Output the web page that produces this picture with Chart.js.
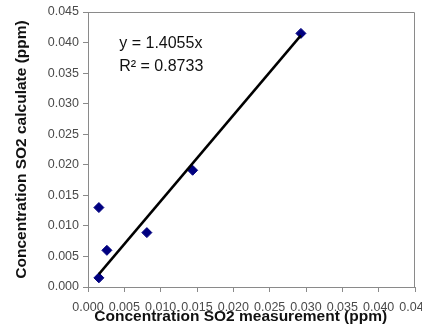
<!DOCTYPE html>
<html>
<head>
<meta charset="utf-8">
<script src="https://cdn.jsdelivr.net/npm/chart.js@4.4.1/dist/chart.umd.min.js"></script>
<style>
  html, body { margin: 0; padding: 0; background: #fff; overflow: hidden; }
  #wrap { width: 422px; height: 332px; }
</style>
</head>
<body>
<div id="wrap"><canvas id="so2Chart" width="422" height="332"></canvas></div>
<script>
// --- DONNÉES ---
const so2Measured  = [0.0015, 0.0015, 0.0026, 0.0081, 0.0144, 0.0293];
const so2Calculated = [0.0015, 0.0130, 0.0060, 0.0089, 0.0191, 0.0415];

// Droite de tendance forcée par l'origine : y = a.x
const trendSlope = 1.4055;
const trendR2 = 0.8733;

// Graduations des deux axes
const axisMin = 0;
const axisMax = 0.045;
const axisStep = 0.005;

const FONT = "'Liberation Sans', Arial, sans-serif";
const frameColor = '#8a8a8a';

// la tendance couvre l'étendue des mesures
const xFrom = Math.min(...so2Measured);
const xTo = Math.max(...so2Measured);
const trendPoints = [
    { x: xFrom, y: trendSlope * xFrom },
    { x: xTo,   y: trendSlope * xTo }
];

// Cadre haut + droite de la zone de tracé
const framePlugin = {
    id: 'frame',
    beforeDatasetsDraw(chart) {
        const { ctx, chartArea: a } = chart;
        ctx.save();
        ctx.strokeStyle = frameColor;
        ctx.lineWidth = 1;
        ctx.beginPath();
        ctx.moveTo(a.left, a.top + 0.5);
        ctx.lineTo(a.right - 0.5, a.top + 0.5);
        ctx.lineTo(a.right - 0.5, a.bottom);
        ctx.stroke();
        ctx.restore();
    }
};

// Équation de la tendance, placée en coordonnées de données
const equationPlugin = {
    id: 'equation',
    afterDatasetsDraw(chart) {
        const { ctx, scales } = chart;
        const px = scales.x.getPixelForValue(0.0043);
        ctx.save();
        ctx.fillStyle = '#111';
        ctx.font = '16px ' + FONT;
        ctx.textBaseline = 'middle';
        ctx.fillText('y = ' + trendSlope.toFixed(4) + 'x', px, scales.y.getPixelForValue(0.0399));
        ctx.fillText('R² = ' + trendR2.toFixed(4), px, scales.y.getPixelForValue(0.0361));
        ctx.restore();
    }
};

const ctx = document.getElementById('so2Chart').getContext('2d');
const chart = new Chart(ctx, {
    type: 'scatter',
    data: {
        datasets: [{
            label: 'Tendance',
            type: 'line',
            data: trendPoints,
            borderColor: '#000',
            borderWidth: 2.5,
            pointRadius: 0,
            fill: false,
            order: 0
        }, {
            label: 'SO2',
            data: so2Measured.map((v, i) => ({ x: v, y: so2Calculated[i] })),
            pointStyle: 'rectRot',
            pointRadius: 5,
            pointBackgroundColor: '#000080',
            pointBorderColor: '#000080',
            pointBorderWidth: 1,
            order: 1
        }]
    },
    options: {
        responsive: false,
        animation: false,
        layout: { padding: { left: 12, top: 12, right: 7, bottom: 0 } },
        plugins: {
            legend: { display: false },
            tooltip: { enabled: false }
        },
        scales: {
            x: {
                type: 'linear',
                min: axisMin,
                max: axisMax,
                grid: { drawOnChartArea: false, color: frameColor, tickLength: 5 },
                border: { color: frameColor },
                ticks: {
                    stepSize: axisStep,
                    autoSkip: false,
                    maxRotation: 0,
                    minRotation: 0,
                    padding: 8,
                    color: '#4a4a4a',
                    font: { family: FONT, size: 12.5 },
                    callback: v => v.toFixed(3)
                },
                title: {
                    display: true,
                    text: 'Concentration SO2 measurement (ppm)     ',
                    color: '#111',
                    padding: { top: 0, bottom: 5.5 },
                    font: { family: FONT, size: 15.5, weight: 'bold' }
                },
                afterFit(scale) {
                    scale.height = 45;
                    scale.paddingRight = 0; // le dernier libellé déborde à droite
                }
            },
            y: {
                type: 'linear',
                min: axisMin,
                max: axisMax,
                grid: { drawOnChartArea: false, color: frameColor, tickLength: 5 },
                border: { color: frameColor },
                ticks: {
                    stepSize: axisStep,
                    padding: 4,
                    color: '#4a4a4a',
                    font: { family: FONT, size: 12.5 },
                    callback: v => v.toFixed(3)
                },
                title: {
                    display: true,
                    text: 'Concentration SO2 calculate (ppm)',
                    color: '#111',
                    padding: { top: 0, bottom: 0 },
                    font: { family: FONT, size: 15.5, weight: 'bold' }
                },
                afterFit(scale) {
                    scale.width = 76;
                }
            }
        }
    },
    plugins: [framePlugin, equationPlugin]
});
</script>
</body>
</html>
